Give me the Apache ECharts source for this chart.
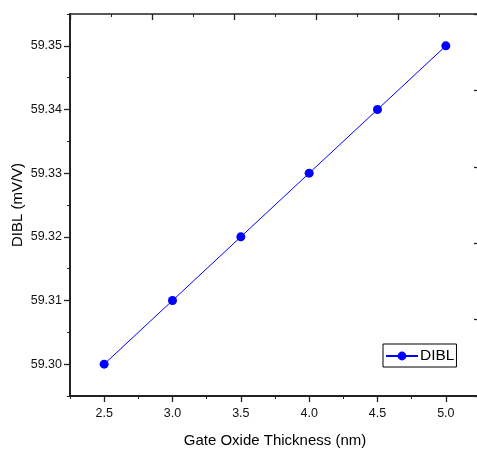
<!DOCTYPE html>
<html>
<head>
<meta charset="utf-8">
<script src="https://cdn.jsdelivr.net/npm/echarts@6/dist/echarts.min.js"></script>
<style>
html,body{margin:0;padding:0;background:#fff;}
#chart{width:477px;height:452px;}
</style>
</head>
<body>
<div id="chart"></div>
<script>
// Data
const thickness = [2.5, 3.0, 3.5, 4.0, 4.5, 5.0];
const dibl = [59.30, 59.31, 59.32, 59.33, 59.34, 59.35];
const xMajorTicks = [2.5, 3.0, 3.5, 4.0, 4.5, 5.0];
const yMajorTicks = [59.30, 59.31, 59.32, 59.33, 59.34, 59.35];
const seriesName = 'DIBL';
const xTitle = 'Gate Oxide Thickness (nm)';
const yTitle = 'DIBL (mV/V)';

const FONT = '"Liberation Sans", Arial, sans-serif';
const AXC = '#222';

const chart = echarts.init(document.getElementById('chart'), null, {renderer: 'canvas'});
const option = {
  animation: false,
  backgroundColor: '#fff',
  grid: {left: 70, top: 14, width: 410, height: 382, containLabel: false, outerBoundsMode: 'none'},
  legend: {
    data: [seriesName],
    left: 383, top: 344,
    orient: 'vertical',
    itemWidth: 32, itemHeight: 11, itemGap: 4,
    padding: [4, 2, 3, 2],
    borderColor: '#000', borderWidth: 1,
    textStyle: {fontFamily: FONT, fontSize: 15.5, color: '#000', padding: [0, 0, 0, -3]}
  },
  xAxis: [
    {
      type: 'value', min: 2.25, max: 5.25, interval: 0.25, position: 'bottom',
      name: xTitle, nameLocation: 'middle', nameGap: 37, nameMoveOverlap: false,
      nameTextStyle: {fontFamily: FONT, fontSize: 15, color: '#000'},
      axisLine: {show: true, onZero: false, lineStyle: {color: AXC, width: 2}},
      axisTick: {show: true, inside: false, length: 3, lineStyle: {color: AXC, width: 1}},
      axisLabel: {
        fontFamily: FONT, fontSize: 12.5, color: '#111', margin: 11,
        formatter: v => (Math.round(v * 100) % 50 === 0 ? v.toFixed(1) : '')
      },
      splitLine: {show: false}
    },
    {
      type: 'value', min: 2.25, max: 5.25, position: 'bottom',
      axisLine: {show: false, onZero: false},
      axisTick: {show: true, inside: false, length: 6, customValues: xMajorTicks, lineStyle: {color: AXC, width: 1.3}},
      axisLabel: {show: false},
      splitLine: {show: false}
    },
    {
      type: 'value', min: 0, max: 5, interval: 1, position: 'top',
      axisLine: {show: true, onZero: false, lineStyle: {color: AXC, width: 1.5}},
      axisTick: {show: true, inside: true, length: 6, lineStyle: {color: AXC, width: 1.3}},
      minorTick: {show: true, splitNumber: 2, length: 3, lineStyle: {color: AXC, width: 1}},
      axisLabel: {show: false},
      splitLine: {show: false}
    }
  ],
  yAxis: [
    {
      type: 'value', min: 59.295, max: 59.355, interval: 0.005, position: 'left',
      name: yTitle, nameLocation: 'middle', nameGap: 45, nameMoveOverlap: false,
      nameTextStyle: {fontFamily: FONT, fontSize: 15, color: '#000'},
      axisLine: {show: true, onZero: false, lineStyle: {color: AXC, width: 2}},
      axisTick: {show: true, inside: false, length: 3, lineStyle: {color: AXC, width: 1}},
      axisLabel: {
        fontFamily: FONT, fontSize: 12.5, color: '#111', margin: 8,
        formatter: v => (Math.round(v * 1000) % 10 === 0 ? v.toFixed(2) : '')
      },
      splitLine: {show: false}
    },
    {
      type: 'value', min: 59.295, max: 59.355, position: 'left',
      axisLine: {show: false, onZero: false},
      axisTick: {show: true, inside: false, length: 6, customValues: yMajorTicks, lineStyle: {color: AXC, width: 1.3}},
      axisLabel: {show: false},
      splitLine: {show: false}
    },
    {
      type: 'value', min: 0, max: 5, interval: 1, position: 'right',
      axisLine: {show: true, onZero: false, lineStyle: {color: AXC, width: 1.5}},
      axisTick: {show: true, inside: true, length: 6, lineStyle: {color: AXC, width: 1.3}},
      axisLabel: {show: false},
      splitLine: {show: false}
    }
  ],
  series: [{
    name: seriesName,
    type: 'line',
    xAxisIndex: 0, yAxisIndex: 0,
    data: thickness.map((x, i) => [x, dibl[i]]),
    symbol: 'circle', symbolSize: 9,
    lineStyle: {color: '#0000ff', width: 1},
    itemStyle: {color: '#0000ff'}
  }]
};
chart.setOption(option);
</script>
</body>
</html>
